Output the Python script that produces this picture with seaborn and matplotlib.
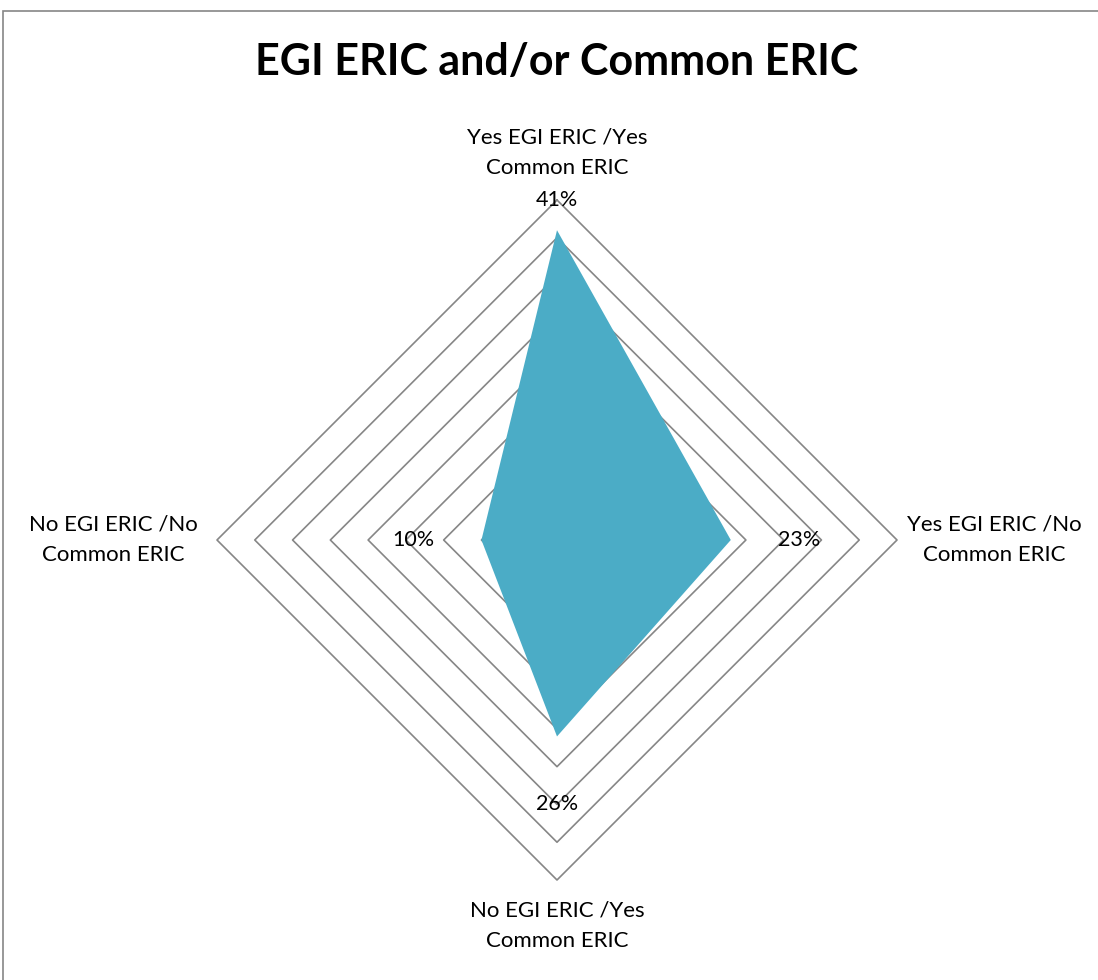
import matplotlib

matplotlib.use("Agg")
import matplotlib.pyplot as plt
import numpy as np
import seaborn as sns
from matplotlib.patches import Rectangle

# data
categories = [
    "Yes EGI ERIC /Yes\nCommon ERIC",
    "Yes EGI ERIC /No\nCommon ERIC",
    "No EGI ERIC /Yes\nCommon ERIC",
    "No EGI ERIC /No\nCommon ERIC",
]
values = [0.41, 0.23, 0.26, 0.10]
value_labels = ["41%", "23%", "26%", "10%"]
ring_levels = [0.05, 0.10, 0.15, 0.20, 0.25, 0.30, 0.35, 0.40, 0.45]
title = "EGI ERIC and/or Common ERIC"

sns.set_theme(style="white")
plt.rcParams["font.family"] = ["Lato", "DejaVu Sans"]

r_max = ring_levels[-1]
theta = 2 * np.pi * np.arange(len(categories)) / len(categories)
sx, sy = np.sin(theta), np.cos(theta)

fig = plt.figure(figsize=(10.98, 9.80), dpi=100)
W, H = 1098, 980
cx, cy, rad = 557, 540, 340
ax = fig.add_axes([(cx - rad) / W, (H - cy - rad) / H, 2 * rad / W, 2 * rad / H])
ax.set_xlim(-r_max, r_max)
ax.set_ylim(-r_max, r_max)
ax.axis("off")

# diamond grid rings
for lvl in ring_levels:
    ax.plot(np.append(lvl * sx, lvl * sx[0]), np.append(lvl * sy, lvl * sy[0]),
            color="#868686", lw=1.2, zorder=1, clip_on=False)

# filled series
ax.fill(np.array(values) * sx, np.array(values) * sy, color="#4BACC6", lw=0, zorder=2)

# data labels
for v, lab, x, y in zip(values, value_labels, sx, sy):
    r = min(v + 0.09, r_max)
    ax.text(r * x, r * y, lab, ha="center", va="center", fontsize=15.5, color="black",
            zorder=3, clip_on=False)

# category labels
offsets = [0.513, 0.579, 0.511, 0.587]
for cat, x, y, off in zip(categories, sx, sy, offsets):
    ax.text(off * x, off * y, cat, ha="center", va="center", fontsize=16, color="black",
            linespacing=1.65, clip_on=False)

fig.text(cx / W, 1 - 62 / H, title, ha="center", va="center", fontsize=31,
         fontweight="bold", color="black")

fig.patches.append(Rectangle((3 / W, -0.01), 1.0, 1 - 11 / H + 0.01, transform=fig.transFigure,
                             fill=False, edgecolor="#868686", lw=1.2))

fig.savefig("out.png", dpi=100)
